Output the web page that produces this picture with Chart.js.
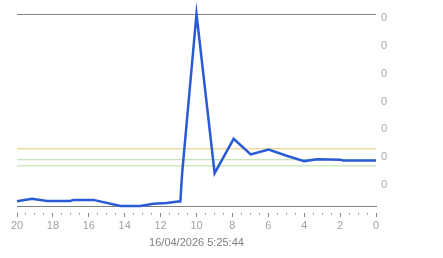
<!DOCTYPE html>
<html>
<head>
<meta charset="utf-8">
<script src="https://cdn.jsdelivr.net/npm/chart.js@4"></script>
<style>
  html, body { margin: 0; padding: 0; background: #fff; }
  #wrap { width: 443px; height: 258px; }
</style>
</head>
<body>
<div id="wrap"><canvas id="grafico"></canvas></div>
<script>
// tiempo (x) y valor (y) de la serie principal
var tiempos = [20, 19.16, 18.33, 17.03, 16.85, 15.74, 14.24, 13.13, 12.4, 11.66, 11.03, 10.9, 10.8, 10.0, 8.99, 7.93, 6.98, 5.98, 5.02, 4.0, 3.27, 1.99, 1.82, 0];
var valores = [-0.061, -0.052, -0.060, -0.060, -0.056, -0.056, -0.0775, -0.0775, -0.070, -0.067, -0.062, -0.062, 0.039, 0.61, 0.040, 0.163, 0.107, 0.124, 0.103, 0.083, 0.090, 0.088, 0.085, 0.085];

// lineas de referencia
var limiteAlto = 0.127;
var limiteMedio = 0.088;
var limiteBajo = 0.066;

var yTicks = [-0.08, 0, 0.1, 0.2, 0.3, 0.4, 0.5, 0.6, 0.61];
var yMin = -0.08;
var yMax = 0.61;
var tituloX = '16/04/2026 5:25:44';

var serie = tiempos.map(function (t, i) { return { x: t, y: valores[i] }; });

function horizontal(v) {
    return [{ x: 20, y: v }, { x: 0, y: v }];
}

const grafico = new Chart('grafico', {
    type: 'line',
    data: {
        datasets: [{
            data: serie,
            borderColor: '#2a5bd6',
            borderWidth: 2.5,
            pointRadius: 0,
            tension: 0,
            clip: false
        }, {
            data: horizontal(limiteAlto),
            borderColor: '#e6c86e',
            borderWidth: 1,
            pointRadius: 0
        }, {
            data: horizontal(limiteMedio),
            borderColor: '#b6dea6',
            borderWidth: 1,
            pointRadius: 0
        }, {
            data: horizontal(limiteBajo),
            borderColor: '#b6dea6',
            borderWidth: 1,
            pointRadius: 0
        }]
    },
    options: {
        responsive: true,
        maintainAspectRatio: false,
        animation: false,
        layout: {
            padding: { left: 17, top: 14, right: 0, bottom: 8 }
        },
        plugins: {
            legend: { display: false },
            tooltip: { enabled: false }
        },
        scales: {
            x: {
                type: 'linear',
                reverse: true,
                min: 0,
                max: 20,
                border: { display: true, color: '#808080', width: 1 },
                grid: {
                    drawOnChartArea: false,
                    tickLength: 11,
                    tickColor: '#888',
                    tickBorderDash: function (ctx) {
                        var v = ctx.tick ? ctx.tick.value : 0;
                        return (v % 2 === 0) ? [0, 6, 4, 20] : [0, 6, 1.5, 20];
                    }
                },
                ticks: {
                    stepSize: 0.5,
                    autoSkip: false,
                    maxRotation: 0,
                    padding: 2,
                    color: '#a0a0a0',
                    font: { family: 'Liberation Sans', size: 11 },
                    callback: function (v) { return (v % 2 === 0) ? String(v) : ''; }
                },
                title: {
                    display: true,
                    text: tituloX,
                    color: '#808080',
                    font: { family: 'Liberation Sans', size: 11 },
                    padding: { top: 2, bottom: 0 }
                }
            },
            y: {
                position: 'right',
                min: yMin,
                max: yMax,
                afterBuildTicks: function (scale) {
                    scale.ticks = yTicks.map(function (v) { return { value: v }; });
                },
                afterFit: function (scale) { scale.width = 67; },
                border: { display: false },
                grid: {
                    drawTicks: false,
                    color: function (ctx) {
                        var v = ctx.tick ? ctx.tick.value : 0;
                        return (v === yMin || v === yMax) ? '#808080' : 'rgba(0,0,0,0)';
                    }
                },
                ticks: {
                    padding: 5,
                    labelOffset: 1,
                    color: '#a8a8a8',
                    font: { family: 'Liberation Sans', size: 11 },
                    callback: function (v) {
                        if (v === yMin || v === yMax) return '';
                        return String(Math.trunc(v));
                    }
                }
            }
        }
    }
});
</script>
</body>
</html>
